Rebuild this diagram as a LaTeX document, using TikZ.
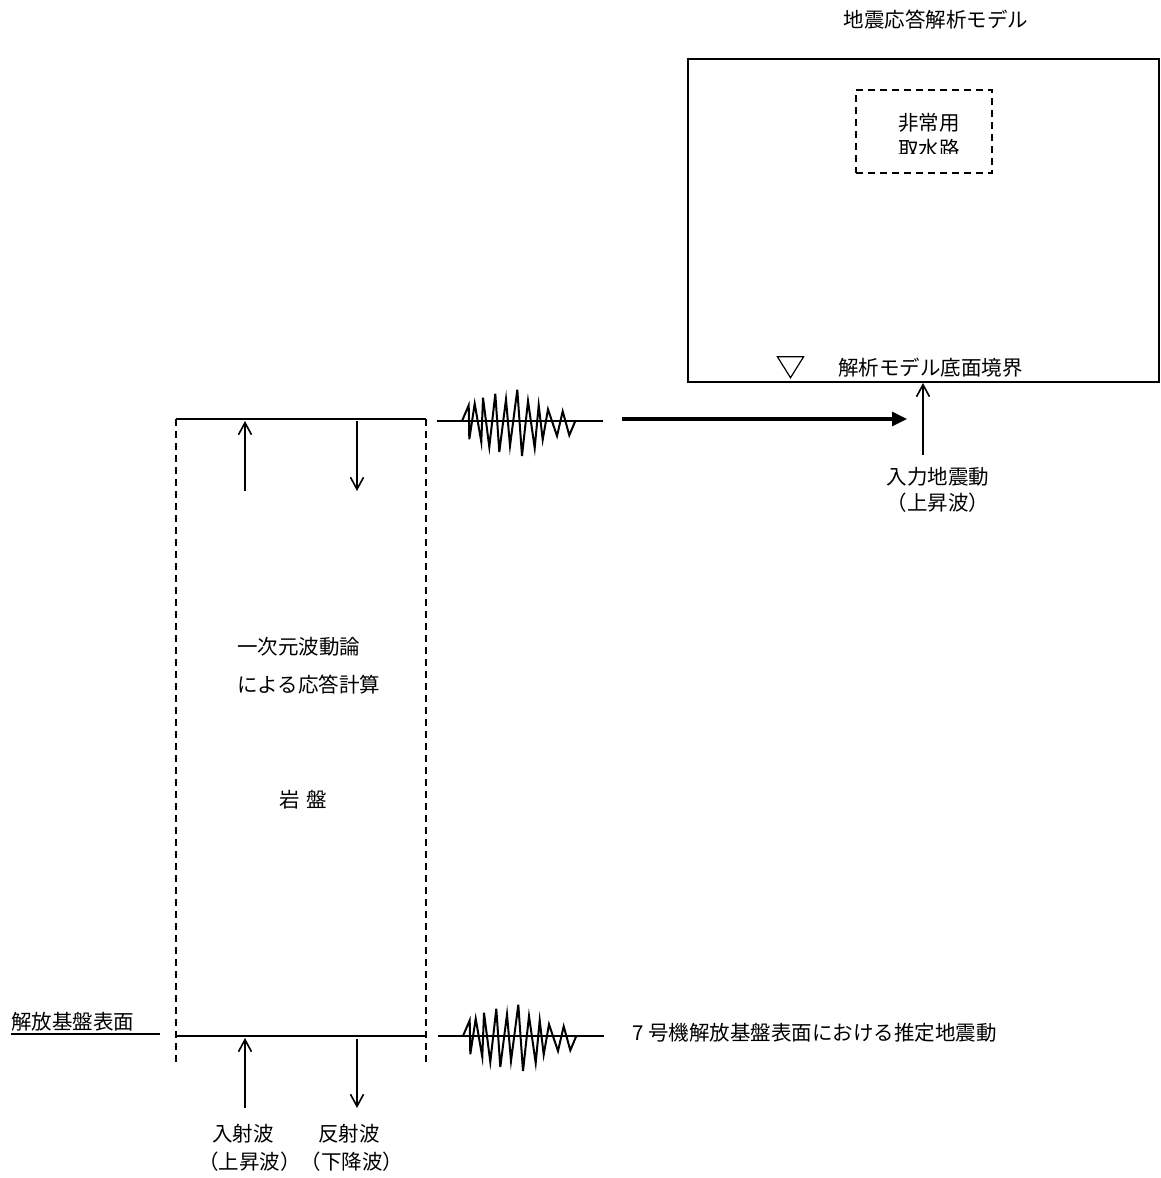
\documentclass[tikz,border=0pt]{standalone}
\usepackage{fontspec}
\setmainfont{Noto Sans CJK JP}
\usetikzlibrary{arrows.meta,shapes.geometric}
\tikzset{
  lbl/.style={inner sep=0pt, font=\fontsize{20.5}{24}\selectfont},
  thinarrow/.style={line width=1.6pt, -{Straight Barb[length=12pt,width=13pt,line width=1.6pt]}},
  bigarrow/.style={line width=3.2pt, -{Triangle[length=15pt,width=14pt]}},
  wavestyle/.style={line width=2pt, line join=miter},
  dashedline/.style={line width=1.8pt, dash pattern=on 7pt off 5pt},
  solidline/.style={line width=1.8pt},
  pics/seiswave/.style={code={
    \draw[wavestyle] (-25,0) -- (141,0);
    \draw[wavestyle] (0,0) -- (6.7,-15.7) -- (7.3,18.3) -- (12.7,-17.3) -- (19.3,21) -- (21,-23.3) -- (27.3,26) -- (33.3,-27.3) -- (37.3,31) -- (44,-21.7) -- (48,25) -- (55.3,-31.3) -- (60,35) -- (66,-20) -- (72.7,27) -- (76.7,-15.7) -- (80.7,18.7) -- (86,-11.7) -- (95,15) -- (100.7,-9.7) -- (107.3,14.3) -- (113.3,0);
  }}
}
\begin{document}
\begin{tikzpicture}[x=1pt,y=-1pt]
\useasboundingbox (0,0) rectangle (1161,1178);

% title and analysis model
\node[lbl] (title) at (936,20) {地震応答解析モデル};
\node[draw, line width=2pt, minimum width=471pt, minimum height=323pt, inner sep=0pt] (model) at (923.5,220.5) {};
\node[draw, dashedline, minimum width=136pt, minimum height=83pt, inner sep=0pt] (intake) at (924,131.5) {};
\node[lbl] (intake1) at (929,123) {非常用};
\begin{scope}
\clip (860,135) rectangle (990,153);
\node[lbl] (intake2) at (929,149) {取水路};
\end{scope}
\node[draw, line width=1.2pt, isosceles triangle, shape border rotate=-90, isosceles triangle apex angle=64, minimum height=21pt, inner sep=0pt] (tri) at (790.5,364) {};
\node[lbl, anchor=west] (bottomlbl) at (838,368) {解析モデル底面境界};

% rock column
\coordinate (cTL) at (176,419);
\coordinate (cTR) at (426,419);
\coordinate (cBL) at (176,1036);
\coordinate (cBR) at (426,1036);
\coordinate (cLend) at (176,1064);
\coordinate (cRend) at (426,1064);
\draw[dashedline] (cTL) -- (cLend);
\draw[dashedline] (cTR) -- (cRend);
\draw[solidline] (cTL) -- (cTR);
\draw[solidline] (cBL) -- (cBR);

% arrows at top of column
\coordinate (tu1) at (245,491);
\coordinate (tu2) at (245,421);
\coordinate (td1) at (357,421);
\coordinate (td2) at (357,491);
\draw[thinarrow] (tu1) -- (tu2);
\draw[thinarrow] (td1) -- (td2);

% arrows at bottom of column
\coordinate (bu1) at (245,1108);
\coordinate (bu2) at (245,1038);
\coordinate (bd1) at (357,1039);
\coordinate (bd2) at (357,1108);
\draw[thinarrow] (bu1) -- (bu2);
\draw[thinarrow] (bd1) -- (bd2);

% column texts
\node[lbl, anchor=west] (t1) at (237,647) {一次元波動論};
\node[lbl, anchor=west] (t2) at (237,685) {による応答計算};
\node[lbl] (rock) at (303,800) {岩\hspace{0.3em}盤};
\node[lbl] (inc) at (243,1134) {入射波};
\node[lbl] (ref) at (349,1134) {反射波};
\node[lbl] (subs) at (300.5,1162) {（上昇波）（下降波）};

% base surface label
\node[lbl, anchor=west] (base) at (11,1022) {解放基盤表面};
\coordinate (ul1) at (11,1034);
\coordinate (ul2) at (160,1034);
\draw[solidline] (ul1) -- (ul2);

% waves
\pic (wtop) at (462,421) {seiswave};
\pic (wbot) at (463,1036) {seiswave};

% transfer arrow
\coordinate (ha1) at (622,419);
\coordinate (ha2) at (907,419);
\draw[bigarrow] (ha1) -- (ha2);

% input motion arrow
\coordinate (ia1) at (923,455);
\draw[thinarrow] (ia1) -- (ia1 |- model.south);
\node[lbl] (inp) at (938,477) {入力地震動};
\node[lbl] (inpsub) at (938,503) {（上昇波）};

% estimated motion label
\node[lbl, anchor=west] (est) at (632,1033) {7 号機解放基盤表面における推定地震動};
\end{tikzpicture}
\end{document}
